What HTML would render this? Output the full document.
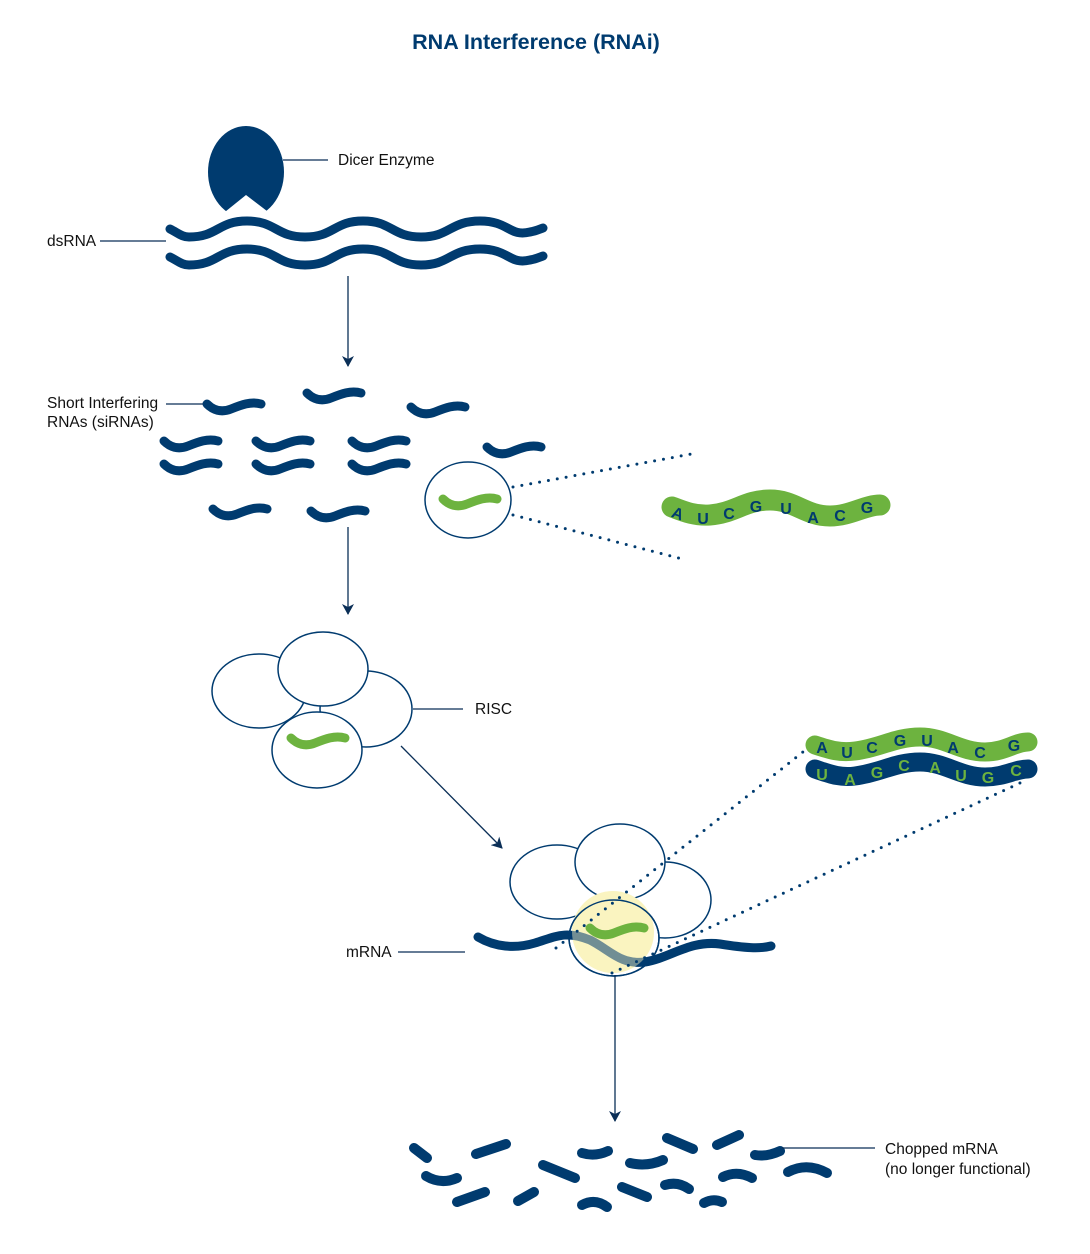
<!DOCTYPE html>
<html><head><meta charset="utf-8"><style>
html,body{margin:0;padding:0;background:#fff}
svg{display:block}
text{font-family:"Liberation Sans",sans-serif}
</style></head><body>
<svg width="1090" height="1254" viewBox="0 0 1090 1254" xmlns="http://www.w3.org/2000/svg">
<defs>
<marker id="ah" markerWidth="12" markerHeight="12" refX="10" refY="6" orient="auto" markerUnits="userSpaceOnUse">
<path d="M0,0 L11,6 L0,12 L3,6 Z" fill="#0b2f57"/>
</marker>
<path id="sq" d="M0,0 C6,6 14,9 24,5 C34,1 44,-3 54,0" fill="none" stroke-linecap="round" stroke-width="9"/>
</defs>
<text x="536" y="49" text-anchor="middle" font-size="21.5" font-weight="bold" fill="#003b6f">RNA Interference (RNAi)</text>

<!-- Dicer -->
<ellipse cx="246" cy="172" rx="38" ry="46" fill="#003b6f"/>
<polygon points="210,224 246,195 284,224" fill="#fff"/>
<line x1="283" y1="160" x2="328" y2="160" stroke="#0b2f57" stroke-width="1.2"/>
<text x="338" y="165" font-size="15.5" fill="#111">Dicer Enzyme</text>

<!-- dsRNA -->
<g fill="none" stroke="#003b6f" stroke-width="9" stroke-linecap="round">
<path d="M170,229 C178,233 182,237 189,237 C218,237 218,221 247,221 C276,221 276,237 305,237 C334,237 334,221 363,221 C392,221 392,237 421,237 C450,237 450,221 480,221 C509,221 509,237 530,232 C536,231 540,229 543,228"/>
<path d="M170,257 C178,261 182,265 189,265 C218,265 218,249 247,249 C276,249 276,265 305,265 C334,265 334,249 363,249 C392,249 392,265 421,265 C450,265 450,249 480,249 C509,249 509,265 530,260 C536,259 540,257 543,256"/>
</g>
<line x1="100" y1="241" x2="166" y2="241" stroke="#0b2f57" stroke-width="1.2"/>
<text x="47" y="246" font-size="15.5" fill="#111">dsRNA</text>

<line x1="348" y1="276" x2="348" y2="366" stroke="#0b2f57" stroke-width="1.3" marker-end="url(#ah)"/>

<!-- siRNAs -->
<g stroke="#003b6f">
<use href="#sq" x="207" y="404"/>
<use href="#sq" x="307" y="393"/>
<use href="#sq" x="411" y="407"/>
<use href="#sq" x="164" y="441"/>
<use href="#sq" x="164" y="464"/>
<use href="#sq" x="256" y="441"/>
<use href="#sq" x="256" y="464"/>
<use href="#sq" x="352" y="441"/>
<use href="#sq" x="352" y="464"/>
<use href="#sq" x="487" y="447"/>
<use href="#sq" x="213" y="509"/>
<use href="#sq" x="311" y="511"/>
</g>
<line x1="166" y1="404" x2="203" y2="404" stroke="#0b2f57" stroke-width="1.2"/>
<text x="47" y="408" font-size="15.5" fill="#111">Short Interfering</text>
<text x="47" y="427" font-size="15.5" fill="#111">RNAs (siRNAs)</text>

<ellipse cx="468" cy="500" rx="43" ry="38" fill="#fff" stroke="#003b6f" stroke-width="1.5"/>
<use href="#sq" x="443" y="499" stroke="#6db33f"/>
<g stroke="#003b6f" stroke-width="3" stroke-linecap="round" stroke-dasharray="0 9" fill="none">
<line x1="513" y1="487" x2="697" y2="453"/>
<line x1="513" y1="515" x2="686" y2="560"/>
</g>

<!-- green strand -->
<path d="M672,507 C685,512 695,516 710,515 C735,513 745,500 770,500 C795,500 805,516 830,516 C850,516 865,505 880,505" fill="none" stroke="#6db33f" stroke-width="21" stroke-linecap="round"/>
<g font-size="16" font-weight="bold" fill="#003b6f" text-anchor="middle">
<text x="678" y="519" transform="rotate(20 678 513)">A</text>
<text x="703" y="524">U</text>
<text x="729" y="519">C</text>
<text x="756" y="512">G</text>
<text x="786" y="514">U</text>
<text x="813" y="523">A</text>
<text x="840" y="521">C</text>
<text x="867" y="513">G</text>
</g>

<line x1="348" y1="527" x2="348" y2="614" stroke="#0b2f57" stroke-width="1.3" marker-end="url(#ah)"/>

<!-- RISC -->
<g fill="#fff" stroke="#003b6f" stroke-width="1.5">
<ellipse cx="259" cy="691" rx="47" ry="37"/>
<ellipse cx="366" cy="709" rx="46" ry="38"/>
<ellipse cx="317" cy="750" rx="45" ry="38"/>
<ellipse cx="323" cy="669" rx="45" ry="37"/>
</g>
<use href="#sq" x="291" y="738" stroke="#6db33f"/>
<line x1="413" y1="709" x2="463" y2="709" stroke="#0b2f57" stroke-width="1.2"/>
<text x="475" y="714" font-size="15.5" fill="#111">RISC</text>

<line x1="401" y1="746" x2="502" y2="848" stroke="#0b2f57" stroke-width="1.3" marker-end="url(#ah)"/>

<!-- second cluster -->
<g fill="#fff" stroke="#003b6f" stroke-width="1.5">
<ellipse cx="557" cy="882" rx="47" ry="37"/>
<ellipse cx="665" cy="900" rx="46" ry="38"/>
<ellipse cx="614" cy="938" rx="45" ry="38"/>
<ellipse cx="620" cy="862" rx="45" ry="38"/>
</g>
<circle cx="613" cy="932" r="41" fill="#faf4c0"/>
<path d="M478,937 C495,947 515,949 535,943 C555,937 565,930 590,940 C610,950 620,965 645,962 C670,958 690,940 720,944 C745,948 760,949 771,946" fill="none" stroke="#003b6f" stroke-width="9" stroke-linecap="round"/>
<circle cx="613" cy="932" r="41" fill="#faf4c0" opacity="0.45"/>
<ellipse cx="614" cy="938" rx="45" ry="38" fill="none" stroke="#003b6f" stroke-width="1.5"/>
<use href="#sq" x="590" y="928" stroke="#6db33f"/>
<g stroke="#003b6f" stroke-width="3" stroke-linecap="round" stroke-dasharray="0 9" fill="none">
<line x1="556" y1="948" x2="808" y2="748"/>
<line x1="612" y1="973" x2="1020" y2="783"/>
</g>
<line x1="398" y1="952" x2="465" y2="952" stroke="#0b2f57" stroke-width="1.2"/>
<text x="346" y="957" font-size="15.5" fill="#111">mRNA</text>

<!-- double strand -->
<path d="M815,745 C830,750 840,753 855,751 C880,748 895,737 920,737 C945,737 960,752 985,752 C1005,752 1015,742 1028,742" fill="none" stroke="#6db33f" stroke-width="19" stroke-linecap="round"/>
<path d="M815,769 C830,774 840,778 855,776 C880,773 895,762 920,762 C945,762 960,777 985,777 C1005,777 1015,769 1028,769" fill="none" stroke="#003b6f" stroke-width="19" stroke-linecap="round"/>
<g font-size="16" font-weight="bold" fill="#003b6f" text-anchor="middle">
<text x="822" y="753">A</text>
<text x="847" y="758">U</text>
<text x="872" y="753">C</text>
<text x="900" y="746">G</text>
<text x="927" y="746">U</text>
<text x="953" y="753">A</text>
<text x="980" y="758">C</text>
<text x="1014" y="751">G</text>
</g>
<g font-size="16" font-weight="bold" fill="#6db33f" text-anchor="middle">
<text x="822" y="780">U</text>
<text x="850" y="785">A</text>
<text x="877" y="778">G</text>
<text x="904" y="771">C</text>
<text x="935" y="773">A</text>
<text x="961" y="781">U</text>
<text x="988" y="783">G</text>
<text x="1016" y="776">C</text>
</g>

<line x1="615" y1="975" x2="615" y2="1121" stroke="#0b2f57" stroke-width="1.3" marker-end="url(#ah)"/>

<!-- chopped -->
<g fill="none" stroke="#003b6f" stroke-width="10" stroke-linecap="round">
<path d="M414,1148 L427,1158"/>
<path d="M476,1154 L506,1144"/>
<path d="M426,1176 Q441,1185 457,1178"/>
<path d="M457,1202 L485,1192"/>
<path d="M518,1201 L534,1192"/>
<path d="M543,1165 L575,1178"/>
<path d="M582,1153 Q595,1157 608,1151"/>
<path d="M582,1205 Q595,1198 607,1207"/>
<path d="M630,1163 Q647,1167 663,1160"/>
<path d="M622,1187 L647,1197"/>
<path d="M667,1138 L693,1149"/>
<path d="M665,1185 Q678,1181 689,1189"/>
<path d="M717,1145 L739,1135"/>
<path d="M704,1203 Q713,1198 722,1202"/>
<path d="M723,1177 Q737,1170 752,1178"/>
<path d="M755,1155 Q767,1157 780,1151"/>
<path d="M788,1172 Q807,1162 827,1173"/>
</g>
<line x1="782" y1="1148" x2="875" y2="1148" stroke="#0b2f57" stroke-width="1.2"/>
<text x="885" y="1154" font-size="15.5" fill="#111">Chopped mRNA</text>
<text x="885" y="1174" font-size="15.5" fill="#111">(no longer functional)</text>
</svg>
</body></html>
